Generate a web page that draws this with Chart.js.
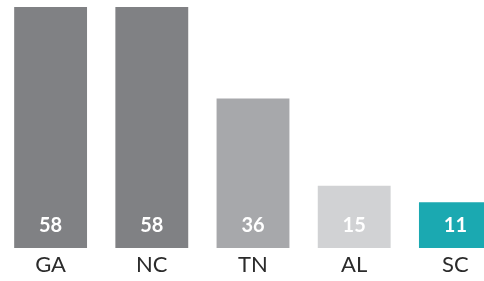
<!DOCTYPE html>
<html>
<head>
<meta charset="utf-8">
<script src="https://cdn.jsdelivr.net/npm/chart.js@4/dist/chart.umd.min.js"></script>
<style>
  html, body { margin: 0; padding: 0; background: #fff; overflow: hidden; }
  .chart-wrap { width: 506px; height: 281px; position: relative; }
</style>
</head>
<body>
<div class="chart-wrap"><canvas id="stateChart"></canvas></div>
<script>
// data
const states = ["GA", "NC", "TN", "AL", "SC"];
const counts = [58, 58, 36, 15, 11];
const barColors = ["#808184", "#808184", "#a7a8ab", "#d1d2d4", "#1ba9b1"];

// value labels inside the bars
const valueLabels = {
  id: "valueLabels",
  afterDatasetsDraw(chart) {
    const ctx = chart.ctx;
    const meta = chart.getDatasetMeta(0);
    ctx.save();
    ctx.fillStyle = "#ffffff";
    ctx.font = "bold 20px Lato, 'Open Sans', sans-serif";
    ctx.textAlign = "center";
    ctx.textBaseline = "middle";
    meta.data.forEach(function (bar, i) {
      ctx.fillText(String(counts[i]), bar.x, bar.base - 22);
    });
    ctx.restore();
  },
};

let canvas = document.getElementById("stateChart");
if (canvas) {
  var ctx = canvas.getContext("2d");
  new Chart(ctx, {
    type: "bar",
    data: {
      labels: states,
      datasets: [
        {
          data: counts,
          backgroundColor: barColors,
          borderWidth: 0,
          barPercentage: 0.72,
          categoryPercentage: 1,
        },
      ],
    },
    options: {
      responsive: true,
      maintainAspectRatio: false,
      animation: false,
      layout: { padding: { top: 7, bottom: 0, left: 0, right: 0 } },
      plugins: {
        legend: { display: false },
        tooltip: { enabled: false },
      },
      scales: {
        x: {
          grid: { display: false, drawTicks: false },
          border: { display: false },
          ticks: {
            color: "#2b2b2b",
            padding: 0,
            font: { family: "Lato, 'Open Sans', sans-serif", size: 22, weight: "normal", lineHeight: "33px" },
          },
        },
        y: {
          display: false,
          min: 0,
          max: 58,
        },
      },
    },
    plugins: [valueLabels],
  });
}
</script>
</body>
</html>
